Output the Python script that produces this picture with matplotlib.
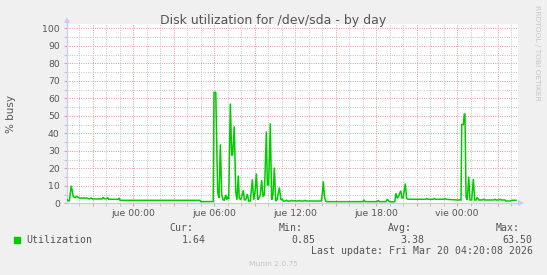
import matplotlib
matplotlib.use("Agg")
import matplotlib.pyplot as plt
from matplotlib.patches import Rectangle
import numpy as np

# ---- data (hours relative to Thu 00:00, % busy) ----
hours = [
    -4.91, -4.81, -4.72, -4.57, -4.42, -4.30, -4.19, -4.07, -3.93, -3.41,
    -3.30, -3.19, -3.11, -3.00, -2.30, -2.21, -2.12, -1.97, -1.88, -1.79,
    -1.10, -1.02, -0.96, 4.96, 5.02, 5.88, 5.94,
    6.00, 6.13, 6.27, 6.37, 6.47, 6.57, 6.67, 6.76, 6.87, 6.94,
    7.01, 7.09, 7.21, 7.31, 7.38, 7.50, 7.61, 7.70, 7.80, 7.87,
    7.98, 8.05, 8.17, 8.25, 8.35, 8.47, 8.57, 8.69, 8.84, 8.94,
    9.04, 9.14, 9.24, 9.33, 9.43, 9.53, 9.63, 9.73, 9.88, 9.95,
    10.05, 10.17, 10.27, 10.37, 10.47, 10.57, 10.67, 10.84, 10.96, 11.06,
    11.13, 11.30, 11.38, 11.46, 11.67, 11.75, 11.83, 11.92, 12.00, 12.08,
    12.24, 12.32, 12.40, 12.66, 12.74, 12.82, 13.95, 14.03, 14.10, 14.18,
    14.27, 14.35, 17.03, 17.11, 17.19, 18.09, 18.17, 18.25, 18.74, 18.84,
    18.94, 19.04, 19.38, 19.48, 19.58, 19.68, 19.83, 19.93, 20.02, 20.17,
    20.27, 20.37, 21.68, 21.76, 21.84, 22.24, 22.32, 22.40, 23.03, 23.11,
    23.19, 24.02, 24.30, 24.35, 24.47, 24.54, 24.59, 24.67, 24.76, 24.87,
    24.96, 25.09, 25.21, 25.31, 25.41, 25.50, 25.61, 25.87, 25.95, 26.03,
    26.73, 26.81, 26.89, 27.11, 27.19, 27.27, 27.56, 27.61, 27.93, 28.05,
    28.37,
]
busy = [
    2.3, 1.6, 1.2, 10.0, 3.8, 3.2, 4.0, 3.4, 3.0, 3.0,
    2.6, 2.6, 3.0, 2.5, 2.5, 3.4, 2.6, 2.6, 3.2, 2.3,
    2.3, 3.0, 1.7, 1.7, 0.95, 0.95, 1.0,
    63.4, 63.4, 6.5, 3.0, 33.7, 5.0, 2.0, 1.8, 4.8, 2.0,
    3.8, 2.5, 57.0, 27.6, 27.6, 44.0, 6.5, 2.0, 15.8, 3.0,
    2.0, 3.8, 7.4, 2.0, 2.0, 5.3, 1.3, 1.3, 13.7, 2.0,
    6.5, 17.0, 2.0, 3.0, 4.8, 13.3, 3.8, 4.8, 41.0, 10.5,
    10.5, 45.7, 2.0, 4.8, 20.4, 1.3, 2.0, 9.0, 2.0, 2.3,
    1.3, 1.3, 1.7, 1.3, 1.3, 1.7, 1.3, 1.3, 1.6, 1.3,
    1.3, 1.6, 1.3, 1.3, 1.7, 1.3, 1.3, 6.0, 12.6, 4.0,
    1.3, 0.95, 0.95, 2.0, 0.95, 0.95, 1.7, 0.95, 0.95, 2.3,
    1.3, 0.85, 0.85, 5.7, 2.8, 4.2, 7.2, 2.8, 3.4, 11.3,
    2.8, 2.3, 2.3, 2.7, 2.3, 2.3, 2.7, 2.3, 2.3, 2.7,
    2.3, 1.9, 1.9, 45.0, 45.0, 51.0, 51.0, 3.8, 1.9, 15.2,
    1.9, 1.9, 13.9, 1.9, 1.9, 3.4, 1.9, 1.9, 2.3, 1.9,
    1.9, 2.3, 1.9, 1.9, 2.3, 1.9, 1.9, 1.3, 1.3, 1.7,
    1.7,
]

x_tick_hours = [0, 6, 12, 18, 24]
x_tick_labels = ["jue 00:00", "jue 06:00", "jue 12:00", "jue 18:00", "vie 00:00"]
y_ticks = [0, 10, 20, 30, 40, 50, 60, 70, 80, 90, 100]

legend_name = "Utilization"
stat_names = ["Cur:", "Min:", "Avg:", "Max:"]
stat_values = ["1.64", "0.85", "3.38", "63.50"]
last_update = "Last update: Fri Mar 20 04:20:08 2026"
title = "Disk utilization for /dev/sda - by day"

# ---- figure ----
W, H = 547, 275
fig = plt.figure(figsize=(W / 100, H / 100), dpi=100, facecolor="#f0f0f0")

def fx(px):
    return px / W

def fy(py):
    return 1 - py / H

left_px, right_px, top_px, bottom_px = 66.7, 518.3, 24.3, 203.3
ax = fig.add_axes([fx(left_px), fy(bottom_px), (right_px - left_px) / W,
                   (bottom_px - top_px) / H])
ax.set_facecolor("white")
xmin = (left_px - 133) / 13.5
xmax = (right_px - 133) / 13.5
ax.set_xlim(xmin, xmax)
ax.set_ylim(0, 102.3)

text_col = "#555555"
axis_col = "#c8cbf2"
minor_col = "#c4c4c4"
major_col = "#e89c9c"

# grid
ax.set_xticks(np.arange(-3, 29, 3))
ax.set_xticks(np.arange(-4, 29, 1), minor=True)
ax.set_yticks(y_ticks)
ax.set_yticks(np.arange(5, 100, 10), minor=True)
ax.grid(which="minor", color=minor_col, linestyle=(0, (1, 1.3)), linewidth=0.72)
ax.grid(which="major", color=major_col, linestyle=(0, (1, 1.3)), linewidth=0.72)
ax.set_axisbelow(True)

lab = []
major_pos = np.arange(-3, 29, 3)
for p in major_pos:
    if p in x_tick_hours:
        lab.append(x_tick_labels[x_tick_hours.index(p)])
    else:
        lab.append("")
ax.set_xticklabels(lab)
ax.set_yticklabels([str(v) for v in y_ticks])

ax.tick_params(axis="both", which="major", direction="out", length=2,
               width=0.75, color=major_col, labelsize=6.7, labelcolor=text_col)
ax.tick_params(axis="both", which="minor", direction="out", length=2,
               width=0.75, color=minor_col)
ax.tick_params(axis="x", which="major", pad=2.2)
ax.tick_params(axis="y", which="major", pad=3.0)

for s in ["top", "right"]:
    ax.spines[s].set_visible(False)
for s in ["left", "bottom"]:
    ax.spines[s].set_color(axis_col)
    ax.spines[s].set_linewidth(0.9)

# axis arrows
ax.plot([xmax, xmax + 0.1], [0, 0], color=axis_col, lw=0.9, clip_on=False)
ax.plot([xmax + 0.2], [0], marker=">", color=axis_col, markersize=4.5,
        clip_on=False, markeredgewidth=0)
ax.plot([xmin, xmin], [100, 104], color=axis_col, lw=0.9, clip_on=False)
ax.plot([xmin], [104.5], marker="^", color=axis_col, markersize=4.5,
        clip_on=False, markeredgewidth=0)

# data
ax.plot(hours, busy, color="#00cc00", linewidth=1.1, solid_joinstyle="miter",
        zorder=3)

# texts
fig.text(fx(273.2), fy(24.3), title, ha="center", va="baseline",
         fontsize=9, color=text_col)
fig.text(fx(10.5), fy(114), "% busy", rotation=90, ha="center", va="center",
         fontsize=7.5, color=text_col)
fig.text(fx(536.7), fy(53.3), "RRDTOOL / TOBI OETIKER", rotation=270,
         ha="center", va="center", fontsize=5.4, color="#c4c4c4")
fig.text(fx(273), fy(264), "Munin 2.0.75", ha="center", va="center",
         fontsize=5.4, color="#c4c4c4")

mono = "DejaVu Sans Mono"
fig.patches.append(Rectangle((fx(14), fy(242.7)), 6 / W, 6 / H,
                             transform=fig.transFigure, color="#00cc00"))
fig.text(fx(26.7), fy(242.7), legend_name, ha="left", va="baseline",
         family=mono, fontsize=7.1, color=text_col)
label_right = [193.3, 302.7, 411.7, 520.0]
value_right = [206.0, 315.0, 424.0, 532.7]
for n, v, lr, vr in zip(stat_names, stat_values, label_right, value_right):
    fig.text(fx(lr), fy(230.7), n, ha="right", va="baseline", family=mono,
             fontsize=7.1, color=text_col)
    fig.text(fx(vr), fy(242.7), v, ha="right", va="baseline", family=mono,
             fontsize=7.1, color=text_col)
fig.text(fx(532.7), fy(254.5), last_update, ha="right", va="baseline",
         family=mono, fontsize=7.1, color=text_col)

fig.savefig("out.png", dpi=100, facecolor=fig.get_facecolor())
